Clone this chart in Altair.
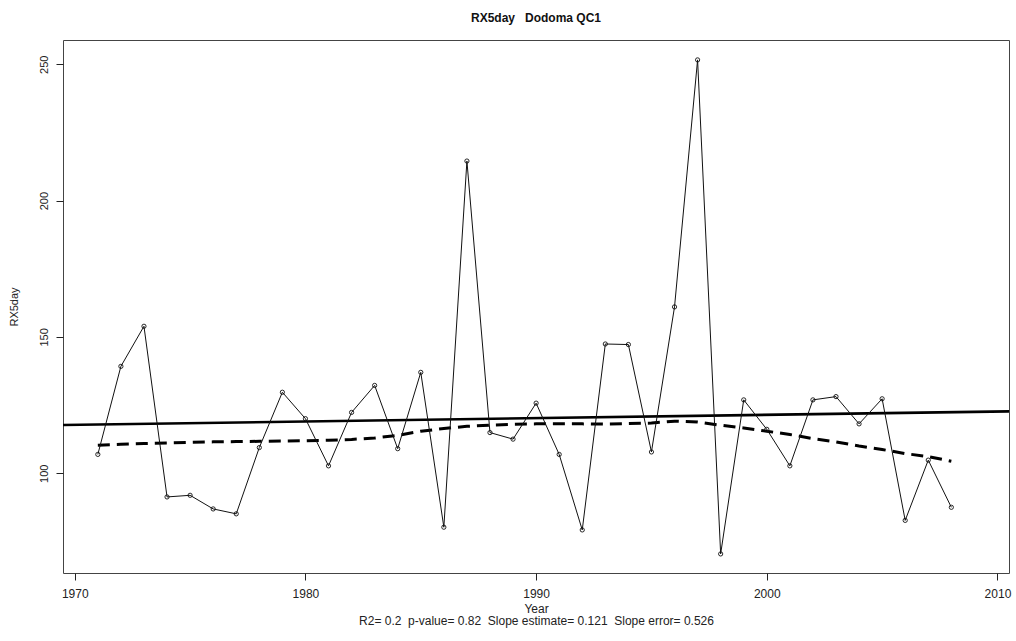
import altair as alt
import pandas as pd

years = list(range(1971, 2009))
rx5day = [106.9, 139.2, 153.9, 91.3, 91.9, 86.9, 85.1, 109.4, 129.7, 120.0,
          102.7, 122.3, 132.2, 109.0, 137.0, 80.2, 214.5, 114.9, 112.5, 125.7,
          106.9, 79.2, 147.4, 147.2, 107.8, 161.0, 251.6, 70.4, 126.9, 116.1,
          102.7, 126.9, 128.1, 118.1, 127.3, 82.7, 104.8, 87.5]
lowess = [110.3, 110.6, 110.9, 111.1, 111.3, 111.5, 111.6, 111.7, 111.8, 111.9,
          112.1, 112.4, 112.9, 113.9, 115.4, 116.4, 117.2, 117.6, 117.9, 118.1,
          118.1, 118.1, 118.0, 118.2, 118.4, 119.1, 118.8, 117.6, 116.6, 115.4,
          114.2, 112.7, 111.5, 110.0, 108.7, 107.2, 106.1, 104.4]
trend_years = [1969.49, 2010.5]
trend_vals = [117.7, 122.7]

x_domain = [1969.49, 2010.5]
y_domain = [63.4, 258.9]
x_ticks = [1970, 1980, 1990, 2000, 2010]
y_ticks = [100, 150, 200, 250]

df = pd.DataFrame({"Year": years, "RX5day": rx5day, "lowess": lowess})
tdf = pd.DataFrame({"Year": trend_years, "trend": trend_vals})

xs = alt.Scale(domain=x_domain, nice=False, zero=False)
ys = alt.Scale(domain=y_domain, nice=False, zero=False)

x_axis = alt.Axis(values=x_ticks, format="d", grid=False, domain=False,
                  tickSize=7, tickColor="#222", labelPadding=8, labelFontSize=12,
                  labelColor="#222", labelFont="Liberation Sans",
                  title=["Year", "R2= 0.2\u00a0\u00a0p-value= 0.82\u00a0\u00a0Slope estimate= 0.121\u00a0\u00a0Slope error= 0.526"],
                  titleFont="Liberation Sans", titleFontSize=12, titleFontWeight="normal",
                  titleColor="#222", titlePadding=4, titleLineHeight=12)
y_axis = alt.Axis(values=y_ticks, grid=False, domain=False, tickSize=7, tickColor="#222",
                  labelAngle=270, labelAlign="center", labelBaseline="bottom",
                  labelPadding=7, labelFontSize=11, labelColor="#222",
                  labelFont="Liberation Sans", title="RX5day",
                  titleFont="Liberation Sans", titleFontSize=11, titleFontWeight="normal",
                  titleColor="#222", titlePadding=19)

base = alt.Chart(df)

line = base.mark_line(color="#111", strokeWidth=1).encode(
    x=alt.X("Year:Q", scale=xs, axis=x_axis),
    y=alt.Y("RX5day:Q", scale=ys, axis=y_axis),
)
pts = base.mark_point(filled=False, color="#111", size=18, strokeWidth=0.9, opacity=1).encode(
    x=alt.X("Year:Q", scale=xs),
    y=alt.Y("RX5day:Q", scale=ys),
)
low = base.mark_line(color="#000", strokeWidth=3, strokeDash=[12, 7]).encode(
    x=alt.X("Year:Q", scale=xs),
    y=alt.Y("lowess:Q", scale=ys),
)
trend = alt.Chart(tdf).mark_line(color="#000", strokeWidth=2.6, clip=True).encode(
    x=alt.X("Year:Q", scale=xs),
    y=alt.Y("trend:Q", scale=ys),
)

chart = alt.layer(trend, low, line, pts).properties(
    width=946, height=533,
    autosize=alt.AutoSizeParams(type="none"),
    padding={"left": 63, "top": 40, "right": 7, "bottom": 68},
    title=alt.TitleParams("RX5day\u00a0\u00a0\u00a0Dodoma QC1", fontSize=12, fontWeight="bold",
                          font="Liberation Sans", color="#111", anchor="middle", offset=15),
).configure(background="white").configure_view(stroke="#444", strokeWidth=1)

chart.save("out.html", embed_options={"renderer": "svg", "actions": False})
